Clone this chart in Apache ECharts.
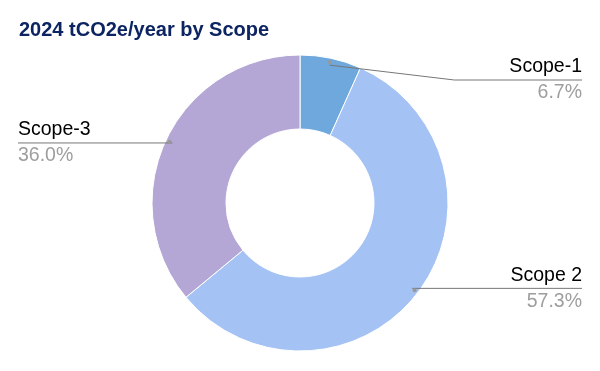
<!DOCTYPE html>
<html><head><meta charset="utf-8">
<script src="https://cdn.jsdelivr.net/npm/echarts@6/dist/echarts.min.js"></script>
<style>html,body{margin:0;padding:0;background:#fff}#c{width:600px;height:371px}</style>
</head><body><div id="c"></div>
<script>
const categories = ['Scope-1', 'Scope 2', 'Scope-3'];
const values = [6.7, 57.3, 36.0];
const colors = ['#6fa8dc', '#a4c2f4', '#b4a7d6'];

const CX = 300, CY = 203, R_IN = 74, R_OUT = 148, R_LINE = 141, LABEL_MIN_Y = 80, ELBOW_GAP = 55;
const FONT = 'Liberation Sans, Arial, sans-serif';

const pieData = categories.map((c, i) => ({name: c, value: values[i], itemStyle: {color: colors[i]}}));
const plainData = () => categories.map((c, i) => ({name: c, value: values[i]}));

const chart = echarts.init(document.getElementById('c'), null, {renderer: 'canvas'});
chart.setOption({
  animation: false,
  title: {
    text: '2024 tCO2e/year by Scope',
    left: 14, top: 15,
    textStyle: {fontFamily: FONT, fontWeight: 'bold', fontSize: 20, color: '#0c2461'}
  },
  series: [{
    type: 'pie',
    z: 2,
    center: [CX, CY],
    radius: [R_IN, R_OUT],
    startAngle: 90,
    clockwise: true,
    itemStyle: {borderColor: '#fff', borderWidth: 1},
    data: pieData,
    label: {show: false},
    labelLine: {show: false}
  }, {
    type: 'pie',
    z: 5,
    silent: true,
    center: [CX, CY],
    radius: [R_IN, R_OUT],
    startAngle: 90,
    clockwise: true,
    avoidLabelOverlap: false,
    itemStyle: {color: 'rgba(0,0,0,0)', borderWidth: 0},
    data: plainData(),
    label: {
      position: 'outer',
      alignTo: 'edge',
      edgeDistance: 18,
      formatter: p => '{n|' + p.name + '}\n{p|' + p.value.toFixed(1) + '%}',
      rich: {
        n: {fontFamily: FONT, fontSize: 19.5, color: '#000', lineHeight: 26},
        p: {fontFamily: FONT, fontSize: 19.5, color: '#9e9e9e', lineHeight: 26}
      }
    },
    labelLine: {show: true, showAbove: true, length: 0, length2: 20, lineStyle: {color: '#777', width: 1}},
    labelLayout: function (params) {
      const pts = params.labelLinePoints;
      if (!pts) return {};
      const r = params.labelRect;
      const s = pts[0];
      const k = R_LINE / R_OUT;
      const start = [CX + (s[0] - CX) * k, CY + (s[1] - CY) * k];
      const right = pts[pts.length - 1][0] >= s[0];
      const y = Math.max(start[1], LABEL_MIN_Y);
      const endX = right ? r.x + r.width : r.x;
      let elbow;
      if (y !== start[1]) {
        elbow = [right ? r.x - ELBOW_GAP : r.x + r.width + ELBOW_GAP, y];
      } else {
        elbow = [start[0], y];
      }
      return {y: y, labelLinePoints: [start, elbow, [endX, y]]};
    }
  }, {
    type: 'pie',
    z: 6,
    silent: true,
    center: [CX, CY],
    radius: [R_LINE, R_LINE],
    startAngle: 90,
    clockwise: true,
    itemStyle: {color: 'rgba(0,0,0,0)', borderWidth: 0},
    data: plainData(),
    label: {
      position: 'inside',
      rotate: 0,
      formatter: '{d| }',
      rich: {d: {width: 4, height: 4, borderRadius: 2, backgroundColor: '#999', fontSize: 1, lineHeight: 4}}
    },
    labelLine: {show: false}
  }]
});
</script></body></html>
